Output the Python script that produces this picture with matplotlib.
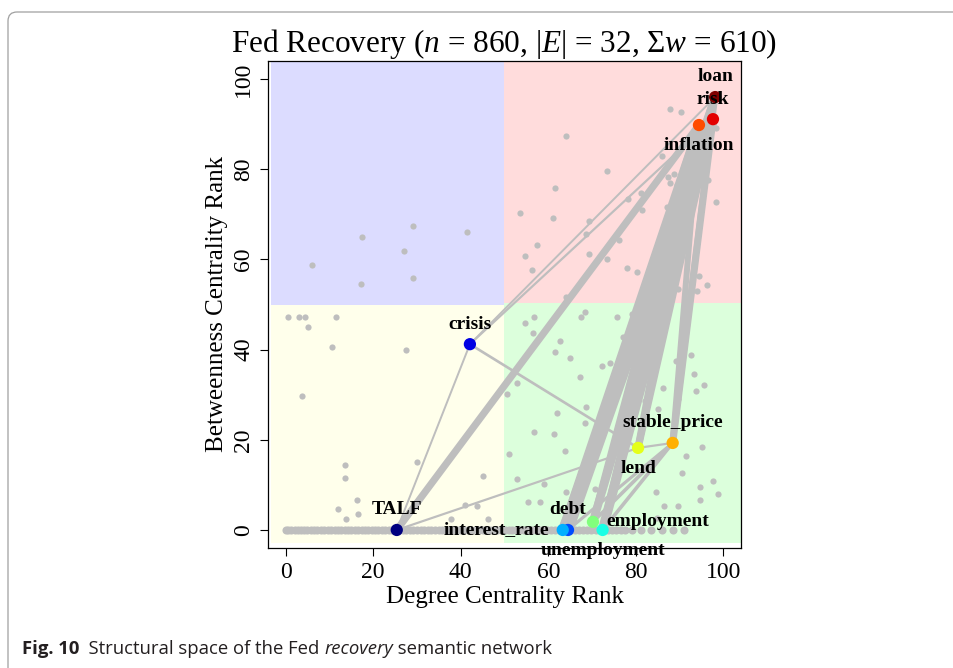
import matplotlib
matplotlib.use("Agg")
import matplotlib.pyplot as plt
from matplotlib.colors import LinearSegmentedColormap
from matplotlib.patches import Rectangle, FancyBboxPatch

plt.rcParams['font.family'] = ['Liberation Serif', 'DejaVu Serif']
plt.rcParams['mathtext.fontset'] = 'custom'
plt.rcParams['mathtext.rm'] = 'Liberation Serif'
plt.rcParams['mathtext.it'] = 'Liberation Serif:italic'

# highlighted terms (degree rank, betweenness rank)
terms = ['TALF', 'crisis', 'debt', 'interest_rate', 'unemployment', 'employment',
         'lend', 'stable_price', 'inflation', 'risk', 'loan']
term_degree = [25.4, 42.1, 64.5, 63.3, 72.4, 70.2, 80.5, 88.4, 94.4, 97.6, 98.1]
term_between = [0.0, 41.2, 0.0, 0.0, 0.0, 1.8, 18.2, 19.3, 89.8, 91.1, 96.0]
label_side = ['above', 'above', 'above', 'left', 'below', 'right',
              'below', 'above', 'below', 'above', 'above']

# edges between highlighted terms: (from, to, weight)
edges = [
    ('TALF', 'crisis', 3), ('crisis', 'lend', 6), ('crisis', 'risk', 4),
    ('crisis', 'loan', 3), ('TALF', 'inflation', 25), ('TALF', 'lend', 4),
    ('TALF', 'debt', 10), ('TALF', 'interest_rate', 10), ('TALF', 'unemployment', 8),
    ('debt', 'inflation', 30), ('debt', 'risk', 40), ('debt', 'loan', 30),
    ('interest_rate', 'inflation', 30), ('interest_rate', 'risk', 35),
    ('interest_rate', 'loan', 25), ('unemployment', 'inflation', 25),
    ('unemployment', 'risk', 35), ('unemployment', 'loan', 25),
    ('employment', 'inflation', 25), ('employment', 'risk', 30),
    ('employment', 'loan', 20), ('lend', 'inflation', 25), ('lend', 'risk', 25),
    ('lend', 'loan', 20), ('stable_price', 'inflation', 20),
    ('stable_price', 'risk', 25), ('stable_price', 'loan', 20),
    ('stable_price', 'employment', 10), ('stable_price', 'unemployment', 10),
    ('stable_price', 'debt', 8), ('stable_price', 'lend', 4), ('inflation', 'risk', 15),
]

# other terms of the network
other_x = [29.2, 17.4, 41.4, 27.0, 6.0, 29.0, 17.3,
           87.9, 90.4, 64.0, 98.2, 85.9, 73.3, 87.4, 88.8, 87.8, 89.3, 61.6, 96.5,
           98.4, 53.6, 61.0, 78.2, 81.1, 81.4, 87.2, 69.4, 68.6, 76.2, 57.4, 54.6,
           69.2, 73.4, 56.3, 77.9, 80.3, 94.4, 96.2, 89.6, 64.0, 93.9,
           0.5, 3.0, 4.4, 11.6, 5.2, 10.7, 27.4, 3.7, 13.6, 13.6, 30.1, 16.4, 11.9,
           16.6, 13.7, 45.1, 41.0, 43.7, 37.8, 46.2,
           56.7, 54.6, 68.4, 67.5, 75.6, 79.1, 56.5, 62.6, 61.6, 65.0, 77.1, 77.5,
           72.3, 74.1, 67.2, 77.3, 52.8, 50.5, 92.6, 89.1, 93.3, 95.5, 93.8, 86.3,
           89.7, 85.0, 82.1, 68.7, 61.9, 68.4, 56.8, 61.2, 51.0, 63.8, 95.0, 91.4,
           90.6, 97.6, 94.6, 98.8, 59.0, 64.0, 70.6, 84.7, 94.6, 55.4, 58.1, 86.4,
           89.7, 52.8, 84.8]
other_y = [67.3, 64.9, 66.1, 61.9, 58.8, 55.8, 54.6,
           93.4, 92.8, 87.4, 89.1, 83.0, 79.5, 78.2, 78.9, 77.0, 76.4, 75.9, 77.6,
           72.8, 70.4, 69.2, 73.5, 74.7, 71.0, 71.7, 68.6, 65.6, 64.3, 63.1, 60.7,
           61.3, 60.1, 57.6, 58.2, 57.1, 56.4, 54.3, 53.4, 51.6, 52.9,
           47.3, 47.3, 47.3, 47.3, 44.9, 40.6, 40.0, 29.6, 14.5, 11.5, 15.1, 6.6, 4.7,
           3.6, 2.4, 12.0, 5.5, 5.3, 2.4, 2.4,
           47.3, 46.0, 48.4, 47.3, 47.3, 47.8, 43.6, 41.8, 39.4, 38.1, 42.9, 41.2,
           36.4, 37.0, 33.9, 35.6, 32.7, 30.2, 38.8, 37.5, 34.6, 32.1, 30.9, 31.5,
           29.0, 26.8, 28.5, 27.2, 26.0, 23.7, 21.7, 21.2, 16.9, 17.6, 18.3, 16.3,
           12.7, 10.9, 9.6, 7.9, 10.3, 8.4, 9.1, 8.5, 6.7, 6.1, 6.1, 5.3,
           5.3, 11.2, 2.6]

# terms with zero betweenness (degree rank only)
zero_x = [0.0, 0.6, 1.3, 2.1, 2.8, 3.5, 4.3, 5.0, 5.8, 6.6, 7.3, 8.1, 8.9, 9.6,
          10.4, 11.2, 12.0, 12.7, 13.5, 14.3, 15.0, 15.8, 16.6, 17.4, 18.1, 18.9,
          19.7, 20.5, 21.2, 22.0, 22.8, 23.6, 24.3, 25.1, 26.0, 26.8, 27.6, 28.4,
          29.2, 30.0, 30.9, 31.7, 32.5, 33.3, 34.1, 35.0, 35.8, 36.6, 37.4, 38.3,
          39.1, 39.9, 40.8, 41.6, 42.4, 43.3, 44.1, 45.0, 45.8, 46.7, 47.5, 48.4,
          49.2, 50.1, 51.0, 51.8, 52.7, 53.6, 54.4, 55.3, 56.2, 57.1, 58.0, 58.9,
          59.8, 60.7, 61.6, 62.5, 63.4, 64.3, 65.2, 66.1, 67.0, 68.0, 68.9, 69.8,
          70.8, 71.7, 72.7, 73.6, 74.6, 75.5, 76.5, 77.5, 79.0, 81.2, 83.5, 86.0,
          88.4, 91.0]

quadrant_colors = ['#DCDCFF', '#FFDCDC', '#FFFFEB', '#DCFFDC']
term_cmap = LinearSegmentedColormap.from_list(
    'jetlike', ['#00007F', 'blue', '#007FFF', 'cyan', '#7FFF7F', 'yellow',
                '#FF7F00', 'red', '#7F0000'])
gray = '#BEBEBE'

fig = plt.figure(figsize=(9.54, 6.68), dpi=100)

# page frame and caption, drawn in pixel coordinates
bg = fig.add_axes([0, 0, 1, 1], zorder=-5)
bg.set_xlim(0, 954)
bg.set_ylim(668, 0)
bg.axis('off')
bg.add_patch(FancyBboxPatch((8, 12), 1200, 900,
                            boxstyle='round,pad=0,rounding_size=9',
                            fc='white', ec='#a0a0a0', lw=0.9))
cap_font = ['Open Sans', 'DejaVu Sans']
pieces = [('Fig. 10', 'bold', 'normal'), ('  Structural space of the Fed ', 'normal', 'normal'),
          ('recovery', 'normal', 'italic'), (' semantic network', 'normal', 'normal')]
renderer = fig.canvas.get_renderer()
cx = 22
for txt, wt, st in pieces:
    t = bg.text(cx, 649, txt, family=cap_font, fontsize=13.3, weight=wt, style=st,
                va='center', ha='left', color='#231f20')
    bb = t.get_window_extent(renderer)
    cx += bb.width

ax = fig.add_axes([268 / 954, 1 - 548 / 668, 473 / 954, 487 / 668])
ax.set_xlim(-4, 104)
ax.set_ylim(-4, 104)

# quadrants
ax.add_patch(Rectangle((-3.4, 50), 53.4, 54, fc=quadrant_colors[0], ec='none', zorder=0))
ax.add_patch(Rectangle((50, 50.4), 54, 53.6, fc=quadrant_colors[1], ec='none', zorder=0))
ax.add_patch(Rectangle((-3.4, -2.9), 53.4, 52.9, fc=quadrant_colors[2], ec='none', zorder=0))
ax.add_patch(Rectangle((50, -2.9), 54, 53.3, fc=quadrant_colors[3], ec='none', zorder=0))

ax.scatter(other_x, other_y, s=20, color=gray, lw=0, zorder=1)
ax.scatter(zero_x, [0] * len(zero_x), s=34, color=gray, lw=0, zorder=1)

pos = {t: (x, y) for t, x, y in zip(terms, term_degree, term_between)}
for a, b, w in edges:
    (x0, y0), (x1, y1) = pos[a], pos[b]
    ax.plot([x0, x1], [y0, y1], color=gray, lw=0.9 + w * 0.17,
            solid_capstyle='round', zorder=2)

colors = [term_cmap(i / (len(terms) - 1)) for i in range(len(terms))]
ax.scatter(term_degree, term_between, s=78, c=colors, lw=0, zorder=3)

offsets = {'above': ((0, 14.5), 'center', 'center'),
           'below': ((0, -14.5), 'center', 'center'),
           'left': ((-10, 0), 'right', 'center'),
           'right': ((10, 0), 'left', 'center')}
for t, x, y, side in zip(terms, term_degree, term_between, label_side):
    off, ha, va = offsets[side]
    ax.annotate(t, (x, y), xytext=off, textcoords='offset points', ha=ha, va=va,
                fontsize=14, weight='bold', zorder=4)

ax.set_xticks([0, 20, 40, 60, 80, 100])
ax.set_yticks([0, 20, 40, 60, 80, 100])
ax.tick_params(labelsize=17, length=6, width=0.8, direction='out', pad=4)
for lab in ax.get_yticklabels():
    lab.set_rotation(90)
    lab.set_va('center')
for s in ax.spines.values():
    s.set_linewidth(0.9)
ax.set_xlabel('Degree Centrality Rank', fontsize=18, labelpad=2)
ax.set_ylabel('Betweenness Centrality Rank', fontsize=18, labelpad=4)
ax.set_title('Fed Recovery ($n$ = 860, |$E$| = 32, \u03a3$w$ = 610)', fontsize=22.5, pad=2)

fig.savefig('out.png', dpi=100)
